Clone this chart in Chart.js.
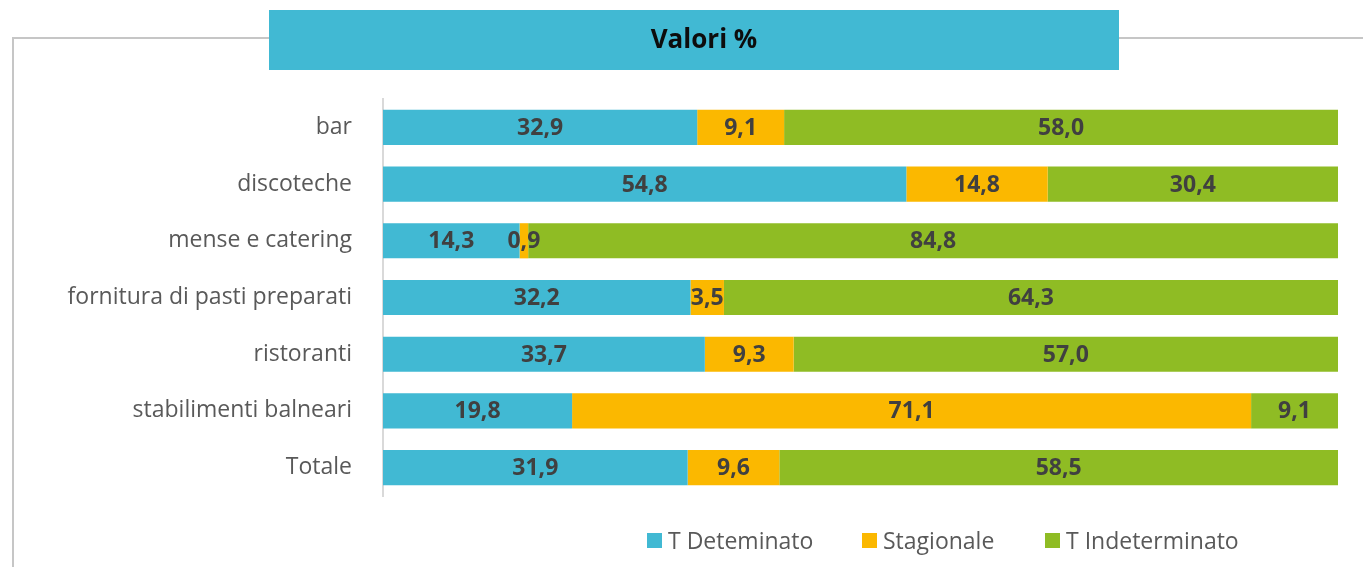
<!DOCTYPE html>
<html>
<head>
<meta charset="utf-8">
<script src="https://cdn.jsdelivr.net/npm/chart.js@4"></script>
<style>
  body { margin: 0; background: #fff; }
  #wrap { position: relative; width: 1363px; height: 567px; }
  #legend { position: absolute; top: 525px; left: 647px; font-family: 'Open Sans', sans-serif; font-size: 23px; color: #595959; white-space: nowrap; }
  #legend .item { position: absolute; top: 0; height: 30px; display: flex; align-items: center; }
  #legend .box { display: inline-block; width: 15px; height: 15px; margin-right: 6px; }
</style>
</head>
<body>
<div id="wrap">
  <canvas id="chart" width="1363" height="567"></canvas>
  <div id="legend"></div>
</div>
<script>
'use strict'

// Data
var categories = ['bar', 'discoteche', 'mense e catering', 'fornitura di pasti preparati', 'ristoranti', 'stabilimenti balneari', 'Totale'];
var seriesNames = ['T Deteminato', 'Stagionale', 'T Indeterminato'];
var tDeterminato = [32.9, 54.8, 14.3, 32.2, 33.7, 19.8, 31.9];
var stagionale = [9.1, 14.8, 0.9, 3.5, 9.3, 71.1, 9.6];
var tIndeterminato = [58.0, 30.4, 84.8, 64.3, 57.0, 9.1, 58.5];
var seriesColors = ['#41B9D3', '#FBB800', '#8FBC24'];
var chartTitle = 'Valori %';

//----------Frame + title box drawn behind the bars----------//
var framePlugin = {
  id: 'frame',
  beforeDraw: function(chart) {
    var ctx = chart.ctx;
    ctx.save();
    ctx.strokeStyle = '#c6c6c6';
    ctx.lineWidth = 2;
    ctx.beginPath();
    ctx.moveTo(13, 567);
    ctx.lineTo(13, 38);
    ctx.lineTo(1363, 38);
    ctx.stroke();

    ctx.fillStyle = '#41B9D3';
    ctx.fillRect(269, 10, 850, 60);
    ctx.fillStyle = '#0d0d0d';
    ctx.font = 'bold 26px "Open Sans", sans-serif';
    ctx.textAlign = 'center';
    ctx.textBaseline = 'middle';
    ctx.fillText(chartTitle, 704, 41);
    ctx.restore();
  }
};

//----------Value labels inside each segment----------//
var labelPlugin = {
  id: 'valueLabels',
  afterDatasetsDraw: function(chart) {
    var ctx = chart.ctx;
    ctx.save();
    ctx.font = 'bold 23px "Open Sans", sans-serif';
    ctx.fillStyle = '#404040';
    ctx.textAlign = 'center';
    ctx.textBaseline = 'middle';
    chart.data.datasets.forEach(function(ds, i) {
      var meta = chart.getDatasetMeta(i);
      meta.data.forEach(function(bar, j) {
        var x = (bar.x + bar.base) / 2;
        ctx.fillText(ds.data[j].toFixed(1).replace('.', ','), x, bar.y + 1);
      });
    });
    ctx.restore();
  }
};

var allSeries = [tDeterminato, stagionale, tIndeterminato];
var datasets = [];
for (let i = 0; i < allSeries.length; i++) {
  datasets.push({
    label: seriesNames[i],
    data: allSeries[i],
    backgroundColor: seriesColors[i],
    borderWidth: 0,
    categoryPercentage: 1,
    barPercentage: 0.62
  });
}

var ctx = document.getElementById('chart').getContext('2d');
var chart = new Chart(ctx, {
  type: 'bar',
  data: { labels: categories, datasets: datasets },
  options: {
    indexAxis: 'y',
    responsive: false,
    animation: false,
    devicePixelRatio: 1,
    layout: { padding: { left: 0, top: 99, right: 25, bottom: 71 } },
    plugins: {
      legend: { display: false },
      tooltip: { enabled: false }
    },
    scales: {
      x: { stacked: true, display: false, min: 0, max: 100 },
      y: {
        stacked: true,
        afterFit: function(scale) { scale.width = 383; },
        grid: { display: false },
        border: { display: true, color: '#d9d9d9', width: 2 },
        ticks: {
          padding: 23,
          color: '#595959',
          font: { family: '"Open Sans", sans-serif', size: 23 }
        }
      }
    }
  },
  plugins: [framePlugin, labelPlugin]
});

//----------HTML legend----------//
var legendEl = document.getElementById('legend');
var legendX = [0, 215, 398];
for (let i = 0; i < seriesNames.length; i++) {
  let item = document.createElement('span');
  item.className = 'item';
  item.style.left = legendX[i] + 'px';
  item.innerHTML = '<span class="box" style="background:' + seriesColors[i] + '"></span>' + seriesNames[i];
  legendEl.appendChild(item);
}
</script>
</body>
</html>
